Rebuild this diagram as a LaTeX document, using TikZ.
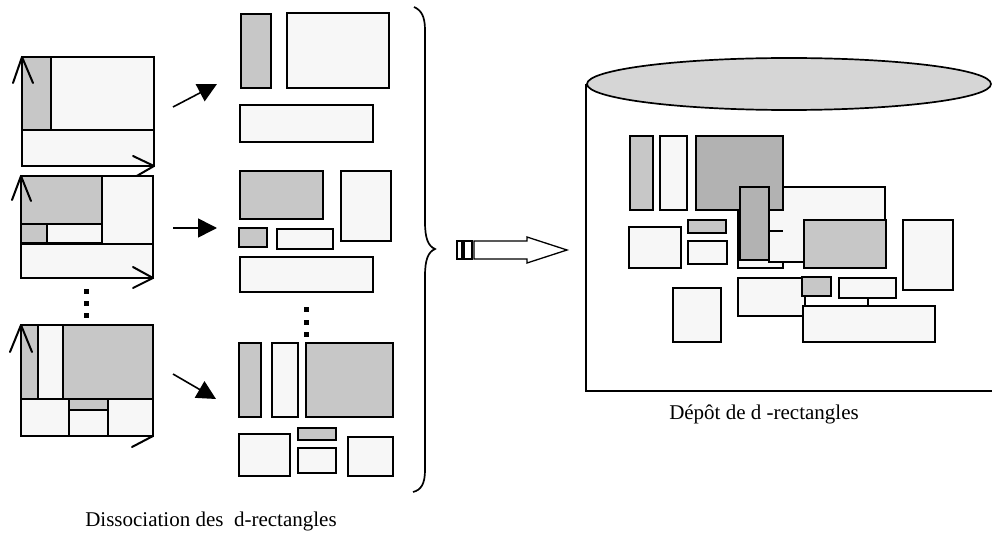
\documentclass[tikz,border=0pt]{standalone}
\usepackage{fontspec}
\setmainfont{Liberation Serif}
\usetikzlibrary{arrows.meta}
\definecolor{fillgray}{gray}{0.78}
\definecolor{darkfill}{gray}{0.70}
\definecolor{paper}{gray}{0.97}
\definecolor{topgray}{gray}{0.84}
\tikzset{
  thickbox/.style={draw=black, line width=2.1pt, fill=paper},
  graybox/.style={draw=black, line width=2.1pt, fill=fillgray},
  darkbox/.style={draw=black, line width=2.1pt, fill=darkfill},
  thinbox/.style={draw=black, line width=1.2pt, fill=paper},
  panel/.style={draw=black, line width=2pt},
  wing/.style={line width=2pt, line cap=round, line join=round},
  flowarrow/.style={line width=1.6pt, -{Triangle[length=19pt,width=19pt]}},
  dotmark/.style={fill=black},
  captext/.style={font=\fontsize{21}{24}\selectfont, inner sep=0pt},
  bracestyle/.style={line width=1.7pt},
  bigarrow/.style={line width=1.3pt, fill=white, line join=miter},
  cyl/.style={line width=1.7pt}
}
\begin{document}
\begin{tikzpicture}[x=1pt,y=-1pt]
\useasboundingbox (0,0) rectangle (992,540);

% ---------- left panels ----------
% panel 1
\fill[fillgray] (22,57) rectangle (51,130);
\fill[paper] (51,57) rectangle (154,130);
\fill[paper] (22,130) rectangle (154,166);
\draw[panel] (22,57) rectangle (154,166);
\draw[panel] (51,57) -- (51,130);
\draw[panel] (22,130) -- (154,130);
\draw[wing] (13,83) -- (22,57) -- (33,83);
\draw[wing] (133,156) -- (154,166) -- (135,177);

% panel 2
\fill[paper] (21,176) rectangle (153,278);
\draw[graybox] (21,176) rectangle (102,224);
\draw[graybox] (21,224) rectangle (47,243);
\draw[thickbox] (47,224) rectangle (102,243);
\draw[thickbox] (102,176) rectangle (153,244);
\draw[panel] (21,176) rectangle (153,278);
\draw[panel] (21,244) -- (153,244);
\draw[wing] (12,200) -- (21,176) -- (31,201);
\draw[wing] (133,267) -- (153,278) -- (133,288);

% dots
\foreach \yy in {291,303,315} \fill[dotmark] (83.5,\yy-2.5) rectangle (88.5,\yy+2.5);

% panel 3
\draw[graybox] (21,325) rectangle (38,399);
\draw[thickbox] (38,325) rectangle (63,399);
\draw[graybox] (63,325) rectangle (153,399);
\draw[thickbox] (21,399) rectangle (69,436);
\draw[graybox] (69,399) rectangle (108,410);
\draw[thickbox] (69,410) rectangle (108,436);
\draw[thickbox] (108,399) rectangle (153,436);
\draw[panel] (21,325) rectangle (153,436);
\draw[wing] (10,352) -- (21,325) -- (32,352);
\draw[wing] (132,447) -- (153,436);

% ---------- arrows to middle ----------
\coordinate (a1s) at (173,107); \coordinate (a1e) at (217,84);
\coordinate (a2s) at (173,228); \coordinate (a2e) at (217,228);
\coordinate (a3s) at (173,374); \coordinate (a3e) at (216,399);
\draw[flowarrow] (a1s) -- (a1e);
\draw[flowarrow] (a2s) -- (a2e);
\draw[flowarrow] (a3s) -- (a3e);

% ---------- middle groups ----------
% group 1
\draw[graybox] (241,14) rectangle (271,88);
\draw[thickbox] (287,13) rectangle (389,88);
\draw[thickbox] (240,105) rectangle (373,142);
% group 2
\draw[graybox] (240,171) rectangle (323,219);
\draw[graybox] (239,228) rectangle (267,247);
\draw[thickbox] (277,229) rectangle (333,249);
\draw[thickbox] (341,171) rectangle (391,241);
\draw[thickbox] (240,257) rectangle (373,292);
% dots
\foreach \yy in {309,322,334} \fill[dotmark] (303.5,\yy-2.5) rectangle (308.5,\yy+2.5);
% group 3
\draw[graybox] (239,343) rectangle (261,417);
\draw[thickbox] (272,343) rectangle (298,417);
\draw[graybox] (306,343) rectangle (393,417);
\draw[graybox] (298,428) rectangle (336,440);
\draw[thickbox] (298,448) rectangle (336,473);
\draw[thickbox] (239,434) rectangle (290,476);
\draw[thickbox] (348,437) rectangle (393,476);

% ---------- brace ----------
\draw[bracestyle] (414,7) .. controls (421,10) and (425,16) .. (425,30)
  -- (425,222) .. controls (425,238) and (428,246) .. (435,249)
  .. controls (428,252) and (425,260) .. (425,276)
  -- (425,470) .. controls (425,484) and (421,490) .. (413,492);

% ---------- hollow arrow ----------
\draw[bigarrow] (457,241) rectangle (462,259);
\draw[bigarrow] (464,241) rectangle (472,259);
\draw[bigarrow] (474,241) -- (527,241) -- (527,237) -- (567,250) -- (527,263) -- (527,259) -- (474,259) -- cycle;

% ---------- cylinder ----------
\draw[cyl] (586,84) -- (586,391) -- (992,391);
\draw[cyl, fill=topgray] (789,84) ellipse [x radius=202, y radius=26];

\draw[graybox] (630,136) rectangle (653,210);
\draw[thickbox] (660,136) rectangle (687,210);
\draw[thinbox] (738,200) rectangle (783,268);
\draw[thinbox] (769,187) rectangle (885,262);
\draw[line width=1.2pt] (769,231) -- (783,231);
\draw[darkbox] (696,136) rectangle (783,210);
\draw[darkbox] (740,187) rectangle (769,260);
\draw[graybox] (804,220) rectangle (886,268);
\draw[graybox] (688,220) rectangle (726,233);
\draw[thickbox] (688,241) rectangle (727,264);
\draw[thickbox] (629,227) rectangle (681,268);
\draw[thickbox] (903,220) rectangle (953,290);
\draw[thinbox] (738,278) rectangle (805,316);
\draw[thickbox] (803,306) rectangle (935,342);
\draw[graybox] (802,277) rectangle (831,296);
\draw[thinbox] (839,278) rectangle (896,298);
\draw[line width=1.2pt] (868,298) -- (868,306);
\draw[thickbox] (673,288) rectangle (721,342);

% ---------- captions ----------
\node[captext] (depot) at (764,414) {Dépôt de d -rectangles};
\node[captext] (dissoc) at (211,521) {Dissociation des\ \ d-rectangles};
\end{tikzpicture}
\end{document}
